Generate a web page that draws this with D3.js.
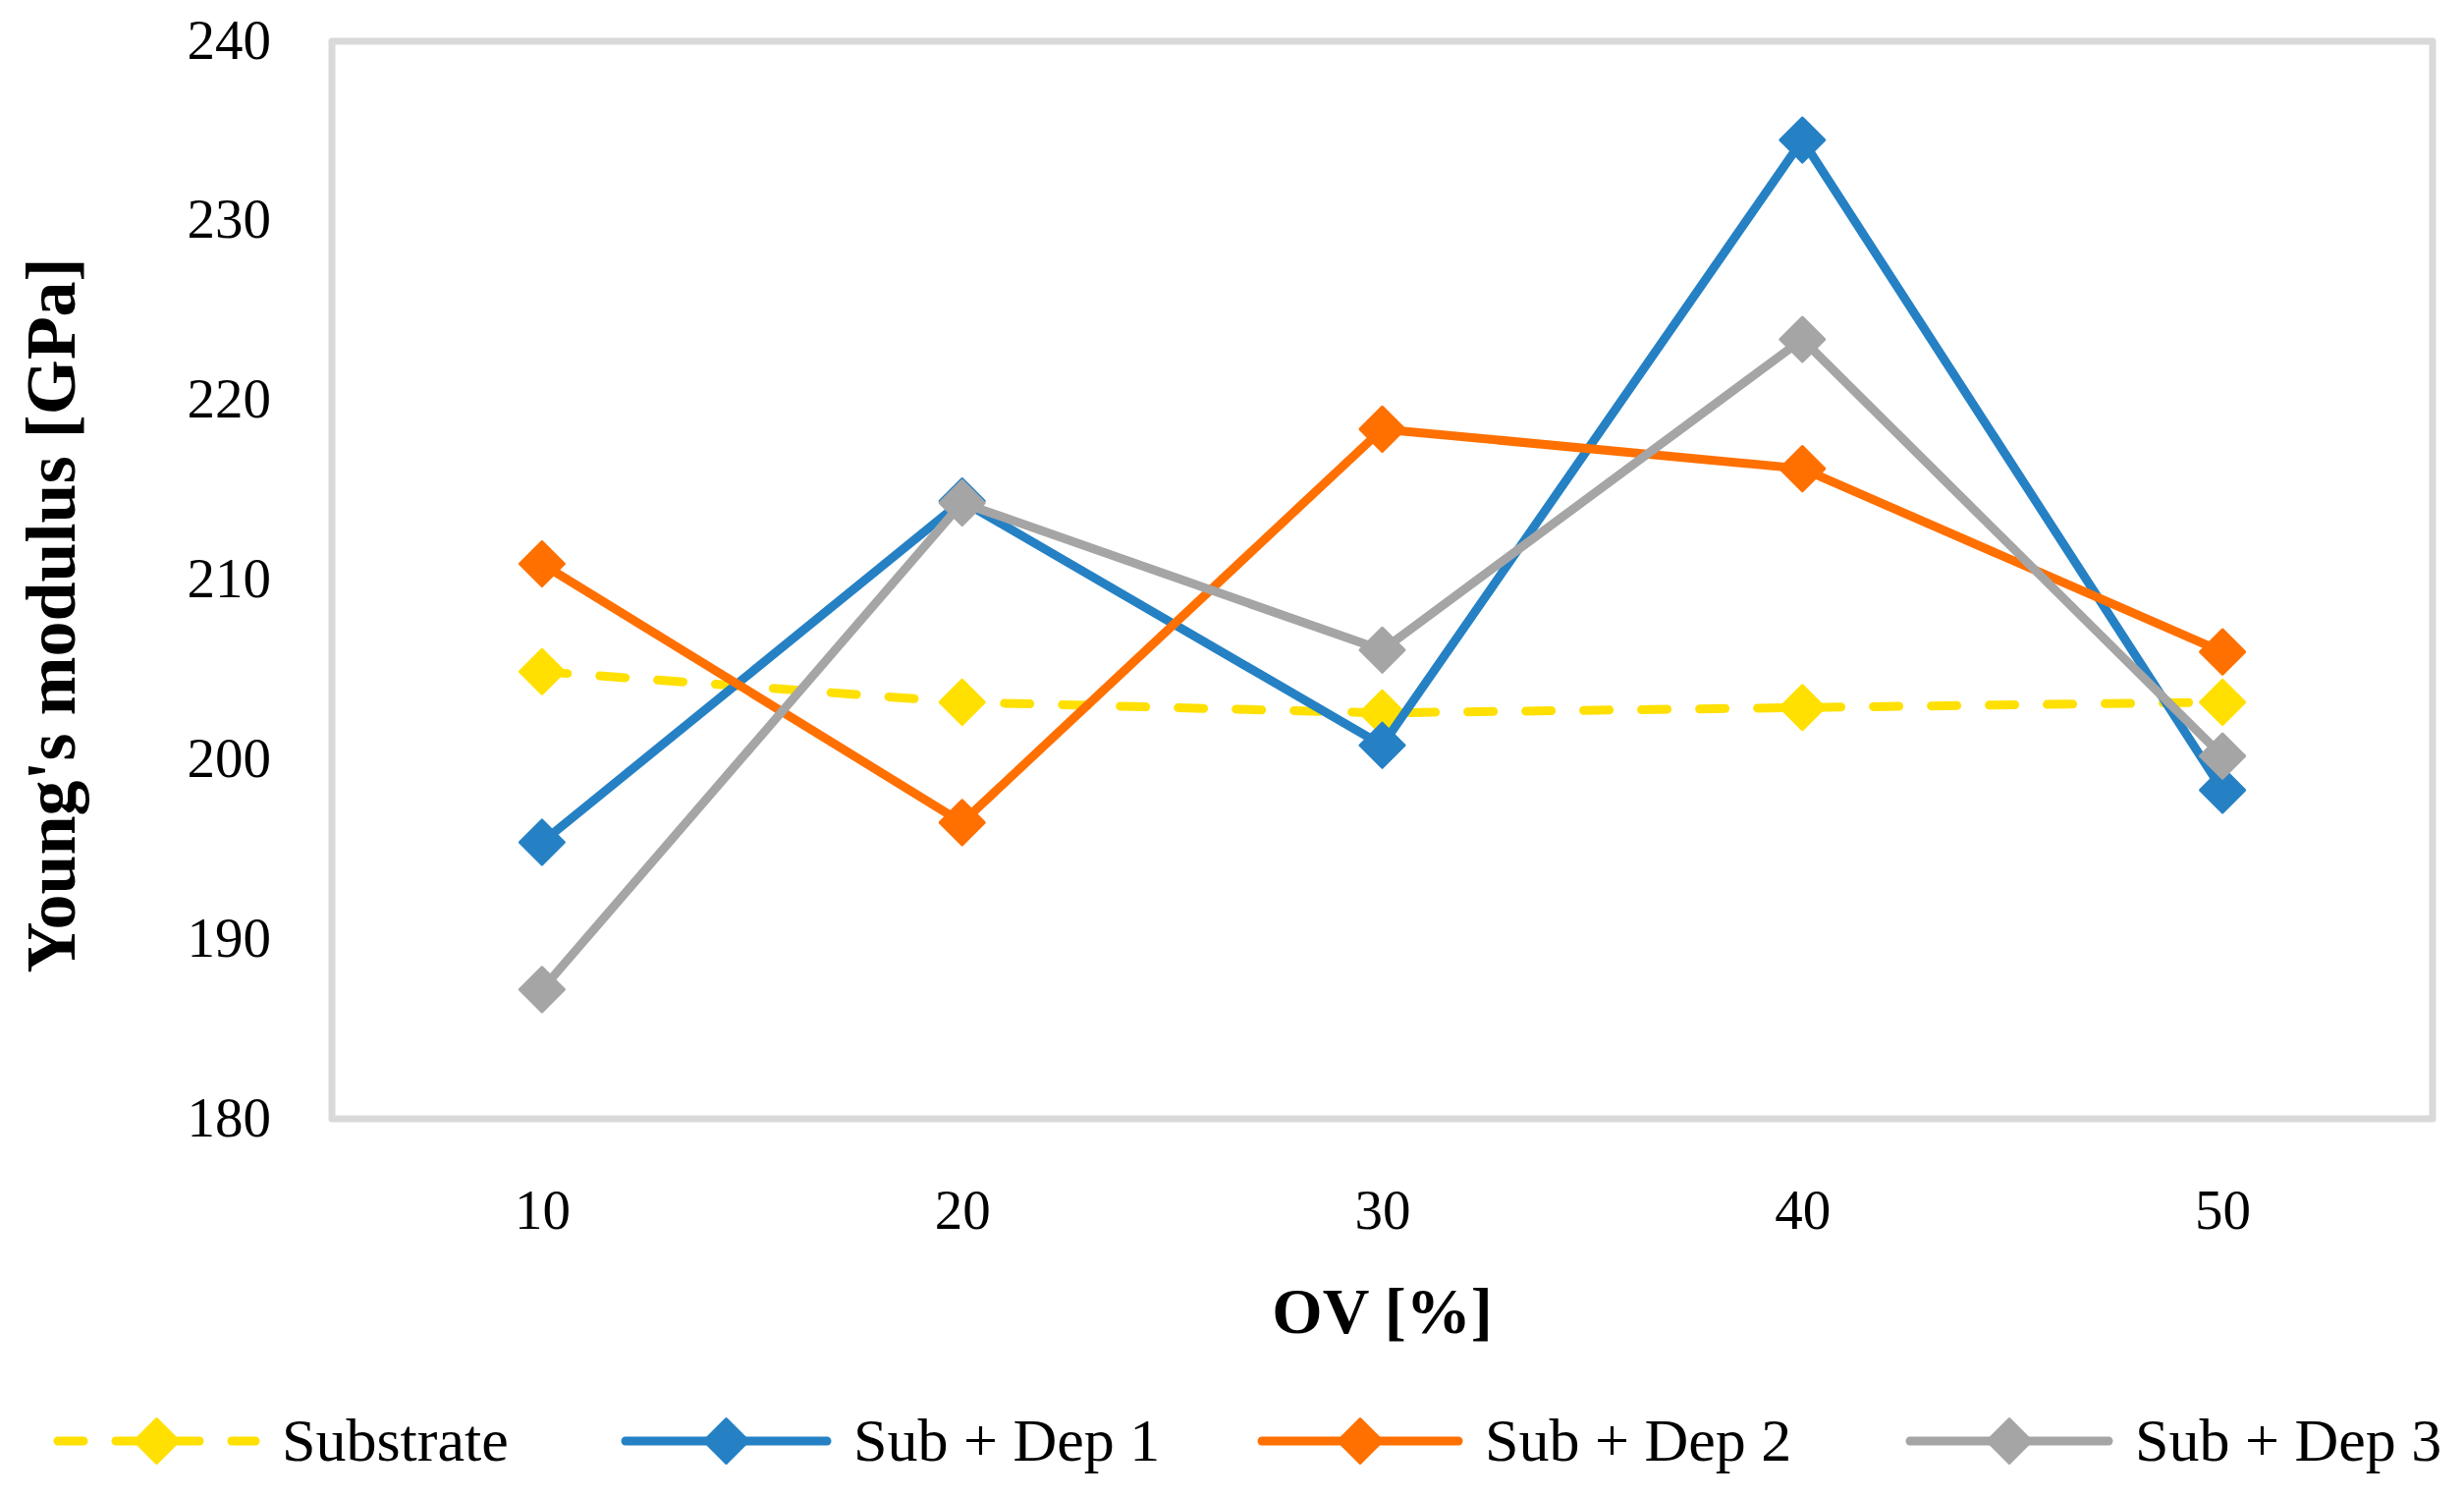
<!DOCTYPE html>
<html>
<head>
<meta charset="utf-8">
<script src="https://cdn.jsdelivr.net/npm/d3@7"></script>
<style>
  html, body { margin: 0; padding: 0; background: #ffffff; }
  svg { display: block; }
</style>
</head>
<body>
<svg id="chart" width="2509" height="1525"></svg>
<script>
// ---- data ----
const categories = ["10", "20", "30", "40", "50"];
const seriesNames = ["Substrate", "Sub + Dep 1", "Sub + Dep 2", "Sub + Dep 3"];
const substrate = [204.9, 203.2, 202.6, 202.9, 203.2];
const subDep1   = [195.4, 214.4, 200.8, 234.5, 198.3];
const subDep2   = [210.9, 196.5, 218.4, 216.2, 206.0];
const subDep3   = [187.2, 214.3, 206.1, 223.4, 200.2];
const yTicks = [180, 190, 200, 210, 220, 230, 240];
const xTitle = "OV [%]";
const yTitle = "Young's modulus [GPa]";

const seriesValues = [substrate, subDep1, subDep2, subDep3];
const colors = ["#FFE000", "#2581C4", "#FF7000", "#A5A5A5"];
const dashed = [true, false, false, false];

// ---- layout ----
const plot = { left: 338, right: 2477, top: 42, bottom: 1139 };
const FONT = "'Liberation Serif', 'DejaVu Serif', serif";

const svg = d3.select("#chart");

const x = d3.scalePoint().domain(categories).range([plot.left, plot.right]).padding(0.5);
const y = d3.scaleLinear().domain([180, 240]).range([plot.bottom, plot.top]);

// frame
svg.append("rect")
  .attr("x", plot.left).attr("y", plot.top)
  .attr("width", plot.right - plot.left).attr("height", plot.bottom - plot.top)
  .attr("fill", "none").attr("stroke", "#D9D9D9").attr("stroke-width", 7)
  .attr("stroke-linejoin", "round");

// y axis (labels only)
const yAxis = d3.axisLeft(y).tickValues(yTicks).tickSize(0).tickPadding(62).tickFormat(d3.format("d"));
const yg = svg.append("g").attr("transform", `translate(${plot.left},0)`).call(yAxis);
yg.select(".domain").remove();
yg.selectAll("text").attr("font-family", FONT).attr("font-size", 57).attr("fill", "#000").attr("dy", "0.3em");

// x axis (labels only)
const xAxis = d3.axisBottom(x).tickSize(0).tickPadding(72);
const xg = svg.append("g").attr("transform", `translate(0,${plot.bottom})`).call(xAxis);
xg.select(".domain").remove();
xg.selectAll("text").attr("font-family", FONT).attr("font-size", 57).attr("fill", "#000");

// axis titles
svg.append("text")
  .attr("x", (plot.left + plot.right) / 2).attr("y", 1357)
  .attr("text-anchor", "middle")
  .attr("font-family", FONT).attr("font-weight", "bold").attr("font-size", 66)
  .text(xTitle);

svg.append("text")
  .attr("transform", `translate(76,${(plot.top + plot.bottom) / 2 + 36}) rotate(-90)`)
  .attr("text-anchor", "middle")
  .attr("font-family", FONT).attr("font-weight", "bold").attr("font-size", 72)
  .text(yTitle);

// series
const line = d3.line().x((d, i) => x(categories[i])).y(d => y(d));
const diamond = d3.symbol().type(d3.symbolDiamond2).size(Math.pow(22.5 / 0.62625, 2));

seriesValues.forEach((vals, s) => {
  const g = svg.append("g");
  g.append("path")
    .datum(vals)
    .attr("d", line)
    .attr("fill", "none")
    .attr("stroke", colors[s])
    .attr("stroke-width", 9)
    .attr("stroke-linejoin", "round")
    .attr("stroke-linecap", "round")
    .attr("stroke-dasharray", dashed[s] ? "26 33" : null);
  g.selectAll("path.m")
    .data(vals)
    .join("path")
    .attr("class", "m")
    .attr("d", diamond)
    .attr("transform", (d, i) => `translate(${x(categories[i])},${y(d)})`)
    .attr("fill", colors[s])
    .attr("stroke", colors[s])
    .attr("stroke-width", 3)
    .attr("stroke-linejoin", "round");
});

// legend
const legendY = 1467;
const legendItems = [
  { x0: 54,  x1: 265 },
  { x0: 632, x1: 847 },
  { x0: 1280, x1: 1490 },
  { x0: 1940, x1: 2152 }
];
seriesNames.forEach((name, s) => {
  const it = legendItems[s];
  const g = svg.append("g");
  g.append("line")
    .attr("x1", it.x0 + 5).attr("x2", it.x1 - 5)
    .attr("y1", legendY).attr("y2", legendY)
    .attr("stroke", colors[s]).attr("stroke-width", 9)
    .attr("stroke-linecap", "round")
    .attr("stroke-dasharray", dashed[s] ? "26 33" : null);
  g.append("path")
    .attr("d", diamond)
    .attr("transform", `translate(${(it.x0 + it.x1) / 2},${legendY})`)
    .attr("fill", colors[s]).attr("stroke", colors[s]).attr("stroke-width", 3)
    .attr("stroke-linejoin", "round");
  g.append("text")
    .attr("x", it.x1 + 22).attr("y", legendY + 20)
    .attr("font-family", FONT).attr("font-size", 62)
    .text(name);
});
</script>
</body>
</html>
